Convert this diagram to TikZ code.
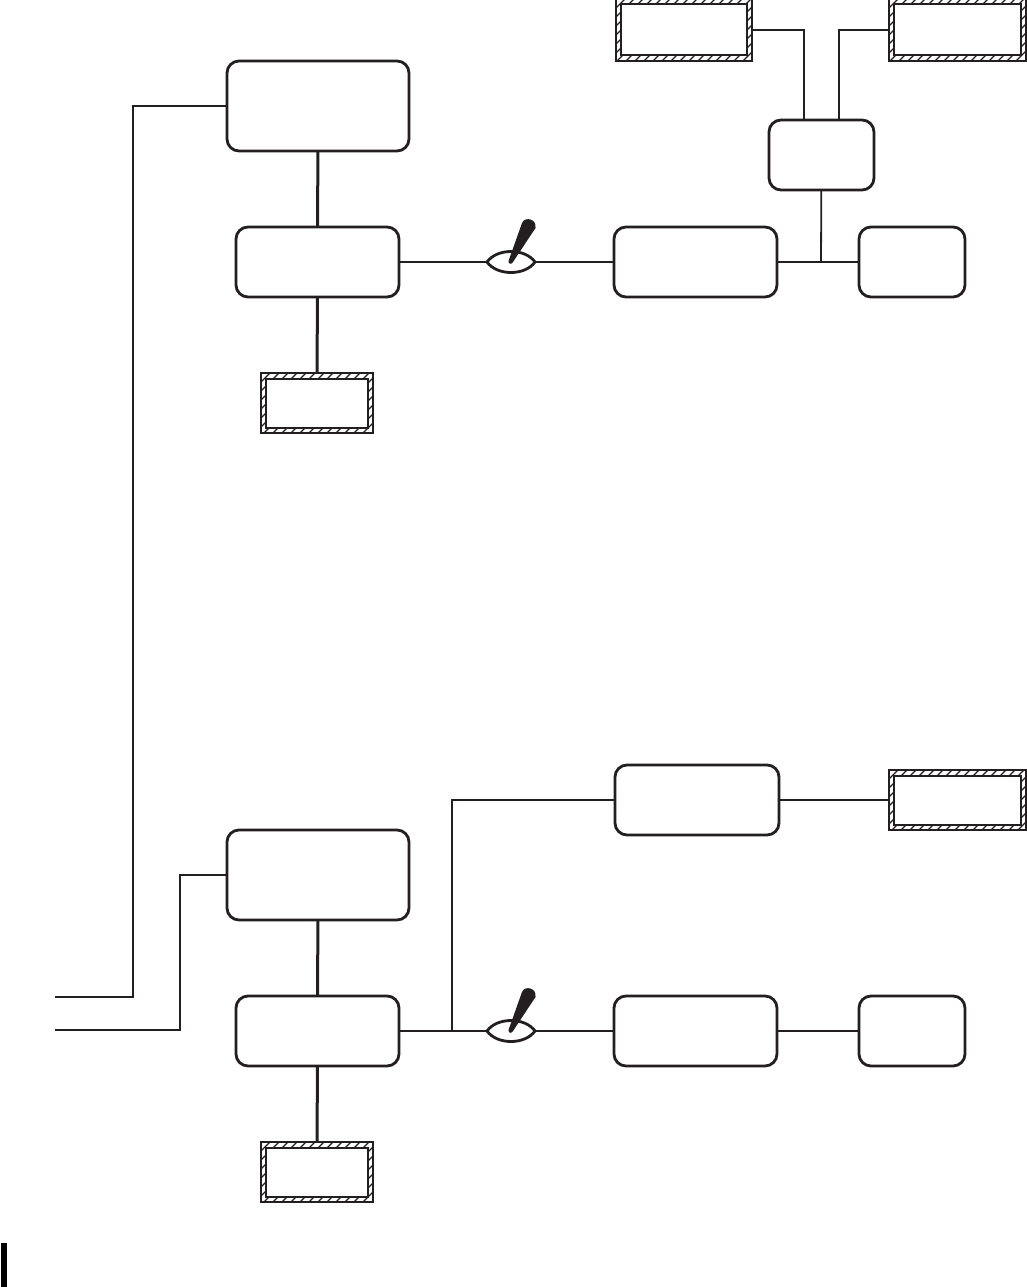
\documentclass[tikz,border=0pt]{standalone}
\usetikzlibrary{calc}
\definecolor{ink}{HTML}{231F20}
\tikzset{
  rbox/.style={draw=ink,line width=2.8pt,rounded corners=12pt,fill=white,inner sep=0pt,outer sep=0pt},
  outerbox/.style={draw=ink,line width=2.2pt,inner sep=0pt,outer sep=0pt},
  innerbox/.style={draw=ink,line width=2pt,fill=white,inner sep=0pt,outer sep=0pt},
  thin conn/.style={draw=ink,line width=1.8pt},
  thick conn/.style={draw=ink,line width=3pt},
  lens/.style={draw=ink,line width=2.8pt,fill=white},
}
\newcommand{\mybox}[6][rbox]{%
  \pgfmathsetmacro{\cxx}{(#3+#5)/2}\pgfmathsetmacro{\cyy}{(#4+#6)/2}%
  \pgfmathsetmacro{\www}{#5-#3}\pgfmathsetmacro{\hhh}{#6-#4}%
  \node[#1,minimum width=\www pt,minimum height=\hhh pt] (#2) at (\cxx,\cyy) {};}
\newcommand{\myhatch}[5]{%
  \begin{scope}
    \clip (#2,#3) rectangle (#4,#5);
    \pgfmathtruncatemacro{\nnn}{(#4-#2+#5-#3)/9+1}
    \foreach \k in {0,...,\nnn}{
      \draw[ink,line width=1.3pt] ({#2+\k*9},#3) -- ({#2+\k*9-(#5-#3)},#5);
    }
  \end{scope}
  \mybox[outerbox]{#1}{#2}{#3}{#4}{#5}
  \pgfmathsetmacro{\ia}{#2+5}\pgfmathsetmacro{\ib}{#3+5.5}
  \pgfmathsetmacro{\ic}{#4-5}\pgfmathsetmacro{\id}{#5-5.5}
  \mybox[innerbox]{#1in}{\ia}{\ib}{\ic}{\id}}
\newcommand{\myswitch}[2]{% name, y
  \coordinate (#1L) at (487,#2);
  \coordinate (#1R) at (535,#2);
  \draw[lens] (#1L) .. controls ($(#1L)+(10,-14)$) and ($(#1R)+(-10,-14)$) .. (#1R)
     .. controls ($(#1R)+(-10,14)$) and ($(#1L)+(10,14)$) .. (#1L) -- cycle;
  \fill[ink] ($(#1L)+(21.5,-1)$) -- ($(#1L)+(35,-39)$)
     .. controls ($(#1L)+(38,-46)$) and ($(#1L)+(50,-43)$) .. ($(#1L)+(48.5,-34)$)
     -- ($(#1L)+(26,0)$) .. controls ($(#1L)+(25,2.5)$) and ($(#1L)+(21,2.5)$) .. ($(#1L)+(21.5,-1)$) -- cycle;
}
\begin{document}
\begin{tikzpicture}[x=1pt,y=-1pt]
\useasboundingbox (0,0) rectangle (1026,1287);
% top system
\mybox{a1}{227}{61}{409}{151}
\mybox{b1}{236}{227}{399}{297}
\myhatch{h1}{261}{373}{373}{433}
\mybox{c1}{769}{120}{874}{190}
\mybox{d1}{614}{227}{777}{297}
\mybox{e1}{859}{227}{965}{297}
\myhatch{t1}{616}{-1}{752}{61}
\myhatch{t2}{889}{-1}{1026}{61}
% bottom system
\mybox{a2}{227}{830}{409}{920}
\mybox{b2}{236}{996}{399}{1066}
\myhatch{h2}{261}{1142}{373}{1202}
\mybox{f2}{615}{765}{779}{835}
\myhatch{t3}{889}{770}{1026}{830}
\mybox{d2}{614}{996}{777}{1066}
\mybox{e2}{859}{996}{965}{1066}
% free ends and junctions
\coordinate (in1) at (55,997);
\coordinate (in2) at (55,1030);
\coordinate (v1) at (133,997);
\coordinate (v2) at (180,1030);
\coordinate (j1) at (821,262);
\coordinate (j2) at (452,1031);
\coordinate (c1l) at (804,120);
\coordinate (c1r) at (839,120);
% connectors
\draw[thick conn] (a1) -- (b1);
\draw[thick conn] (b1) -- (h1);
\draw[thick conn] (a2) -- (b2);
\draw[thick conn] (b2) -- (h2);
\draw[thin conn] (a1.west) -| (v1) -- (in1);
\draw[thin conn] (a2.west) -| (v2) -- (in2);
\draw[thin conn] (t1.east |- 0,30) -| (c1l);
\draw[thin conn] (t2.west |- 0,30) -| (c1r);
\draw[thin conn] (c1) -- (j1);
\draw[thin conn] (d1) -- (e1);
\draw[thin conn] (d2) -- (e2);
\draw[thin conn] (f2) -- (t3);
\draw[thin conn] (b2.east) -- (d2.west);
\draw[thin conn] (f2.west) -| (j2);
\draw[thin conn] (b1) -- (d1);
% switches
\myswitch{s1}{262}
\myswitch{s2}{1031}
% margin bar
\node[fill=black,inner sep=0pt,outer sep=0pt,minimum width=6pt,minimum height=44pt] (bar) at (4,1265) {};
\end{tikzpicture}
\end{document}
